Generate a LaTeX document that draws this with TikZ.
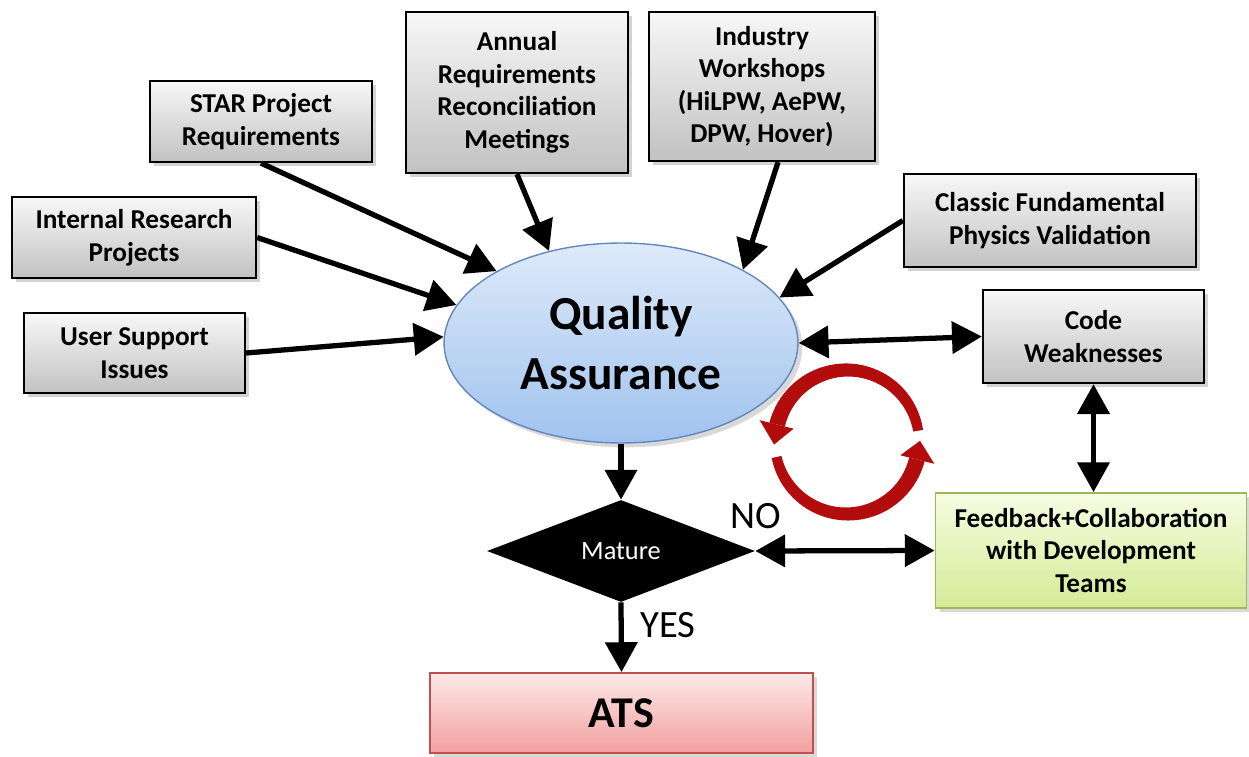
\documentclass[tikz,border=0pt]{standalone}
\usepackage{fontspec}
\setmainfont{Carlito}
\usetikzlibrary{shapes.geometric,arrows.meta,shadows}
\definecolor{qafillA}{RGB}{222,234,249}
\definecolor{qafillB}{RGB}{160,195,238}
\definecolor{qaborder}{RGB}{100,135,190}
\definecolor{fbA}{RGB}{246,252,226}
\definecolor{fbB}{RGB}{212,235,150}
\definecolor{fbborder}{RGB}{155,187,89}
\definecolor{atsA}{RGB}{253,232,232}
\definecolor{atsB}{RGB}{242,160,160}
\definecolor{atsborder}{RGB}{192,80,77}
\definecolor{arcred}{RGB}{178,12,12}
\tikzset{
  graybox/.style={draw=black, line width=1.3pt, top color=gray!6, bottom color=gray!48,
    align=center, font=\fontsize{15.5}{18.5}\selectfont\bfseries, inner sep=2pt,
    drop shadow={opacity=0.35, shadow xshift=2.5pt, shadow yshift=-2.5pt}},
  conn/.style={line width=3pt, -{Triangle[length=17pt,width=18pt]}},
  biconn/.style={line width=3pt, {Triangle[length=17pt,width=18pt]}-{Triangle[length=17pt,width=18pt]}},
  lbl/.style={font=\fontsize{22}{26}\selectfont},
}
\begin{document}
\begin{tikzpicture}[x=0.02cm, y=-0.02cm]
\useasboundingbox (0,0) rectangle (1249,757);
% boxes
\node[graybox, minimum width=4.44cm, minimum height=1.62cm] (star) at (261,121.5) {STAR Project\\Requirements};
\node[graybox, minimum width=4.88cm, minimum height=1.62cm] (internal) at (134,237.5) {Internal Research\\Projects};
\node[graybox, minimum width=4.42cm, minimum height=1.60cm] (user) at (134.5,353) {User Support\\Issues};
\node[graybox, minimum width=4.44cm, minimum height=3.22cm] (annual) at (517,92.5) {Annual\\Requirements\\Reconciliation\\Meetings};
\node[graybox, minimum width=4.52cm, minimum height=2.98cm] (industry) at (762,86.5) {Industry\\Workshops\\(HiLPW, AePW,\\DPW, Hover)};
\node[graybox, minimum width=5.84cm, minimum height=1.86cm] (classic) at (1050,220.5) {Classic Fundamental\\Physics Validation};
\node[graybox, minimum width=4.42cm, minimum height=1.86cm] (code) at (1093.5,336.5) {Code\\Weaknesses};
\node[draw=fbborder, line width=1pt, top color=fbA, bottom color=fbB, align=center,
  font=\fontsize{15.5}{18.5}\selectfont\bfseries, minimum width=6.22cm, minimum height=2.30cm,
  drop shadow={opacity=0.3, shadow xshift=2.5pt, shadow yshift=-2.5pt}]
  (feedback) at (1091,550.5) {Feedback+Collaboration\\with Development\\Teams};
% ellipse
\node[ellipse, draw=qaborder, line width=0.8pt, top color=qafillA, bottom color=qafillB,
  minimum width=7.08cm, minimum height=4.0cm, inner sep=0pt, align=center,
  font=\fontsize{27}{34.5}\selectfont\bfseries,
  drop shadow={opacity=0.3, shadow xshift=2.5pt, shadow yshift=-2.5pt}]
  (qa) at (621,343) {Quality\\Assurance};
% diamond
\node[diamond, fill=black, minimum width=5.36cm, minimum height=2.04cm, inner sep=0pt,
  aspect=2.6, text=white, font=\fontsize{15}{18}\selectfont] (mature) at (621,551) {Mature};
% ATS
\node[draw=atsborder, line width=1pt, top color=atsA, bottom color=atsB,
  minimum width=7.66cm, minimum height=1.60cm, font=\fontsize{25}{30}\selectfont\bfseries,
  drop shadow={opacity=0.3, shadow xshift=2.5pt, shadow yshift=-2.5pt}]
  (ats) at (621.5,713) {ATS};
% labels
\node[lbl] (no) at (756,516) {NO};
\node[lbl] (yes) at (668,625) {YES};
% connectors
\draw[conn] (star.south) -- (qa.150);
\draw[conn] (internal.east) -- (qa.167);
\draw[conn] (user.east) -- (qa.178);
\draw[conn] (annual.south) -- (qa.128);
\draw[conn] (industry.-78) -- (qa.31);
\draw[conn] (classic.west) -- (qa.16);
\draw[biconn] (qa.east) -- (code.west);
\draw[biconn] (code.south) -- (code.south |- feedback.north);
\draw[biconn] (mature.east) -- (feedback.west);
\draw[conn] (qa.south) -- (mature.north);
\draw[conn] (mature.south) -- (ats.north);
% circular red arrows
\fill[arcred] plot[domain=9:166, samples=50] ({847+(72+(5+3*(\x-9)/157))*cos(\x)},{442-(72+(5+3*(\x-9)/157))*sin(\x)})
  -- plot[domain=166:9, samples=50] ({847+(72-(5+3*(\x-9)/157))*cos(\x)},{442-(72-(5+3*(\x-9)/157))*sin(\x)}) -- cycle;
\fill[arcred] ({847+55*cos(166)},{442-55*sin(166)}) -- ({847+90*cos(166)},{442-90*sin(166)}) -- ({847+73*cos(182)},{442-73*sin(182)}) -- cycle;
\fill[arcred] plot[domain=192:346, samples=50] ({847+(72+(5+3*(\x-192)/154))*cos(\x)},{442-(72+(5+3*(\x-192)/154))*sin(\x)})
  -- plot[domain=346:192, samples=50] ({847+(72-(5+3*(\x-192)/154))*cos(\x)},{442-(72-(5+3*(\x-192)/154))*sin(\x)}) -- cycle;
\fill[arcred] ({847+55*cos(346)},{442-55*sin(346)}) -- ({847+90*cos(346)},{442-90*sin(346)}) -- ({847+73*cos(361)},{442-73*sin(361)}) -- cycle;
\end{tikzpicture}
\end{document}
